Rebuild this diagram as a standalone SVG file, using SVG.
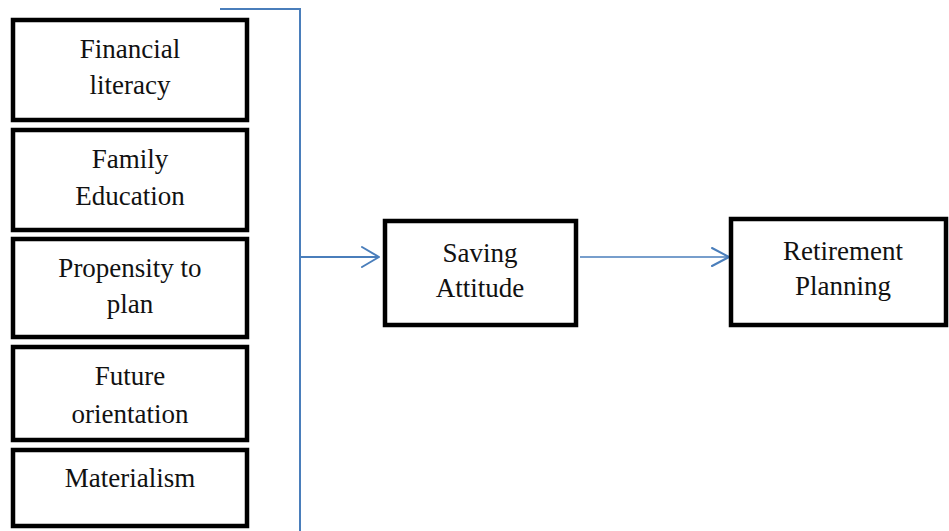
<svg xmlns="http://www.w3.org/2000/svg" width="949" height="531" viewBox="0 0 949 531">
  <style>
    .box { fill: #ffffff; stroke: #000000; stroke-width: 4.5; }
    .lbl { font-family: "Liberation Serif", "Times New Roman", serif; font-size: 27px; fill: #111111; text-anchor: middle; }
    .link { fill: none; stroke: #4a7ebb; stroke-width: 2; }
    .thin { stroke-width: 1.6; }
    .head { fill: none; stroke: #4a7ebb; stroke-width: 2; stroke-linecap: round; stroke-linejoin: round; }
  </style>
  <rect width="949" height="531" fill="#ffffff"/>

  <g id="connectors">
    <!-- bracket gathering the five factors -->
    <path class="link" d="M220,9 H300 V531"/>
    <!-- bracket to Saving Attitude -->
    <path class="link" d="M300,257 H378"/>
    <path class="head" d="M362,247 L379,257 L362,267"/>
    <!-- Saving Attitude to Retirement Planning -->
    <path class="link thin" d="M580,257 H728"/>
    <path class="head thin" d="M712,248 L729,257 L712,266"/>
  </g>

  <g id="financial-literacy">
    <rect class="box" x="13" y="20" width="234" height="100"/>
    <text class="lbl" x="130" y="58">Financial</text>
    <text class="lbl" x="130" y="94">literacy</text>
  </g>
  <g id="family-education">
    <rect class="box" x="13" y="130" width="234" height="100"/>
    <text class="lbl" x="130" y="168">Family</text>
    <text class="lbl" x="130" y="205">Education</text>
  </g>
  <g id="propensity-to-plan">
    <rect class="box" x="13" y="239" width="234" height="98"/>
    <text class="lbl" x="130" y="277">Propensity to</text>
    <text class="lbl" x="130" y="313">plan</text>
  </g>
  <g id="future-orientation">
    <rect class="box" x="13" y="347" width="234" height="93"/>
    <text class="lbl" x="130" y="385">Future</text>
    <text class="lbl" x="130" y="423">orientation</text>
  </g>
  <g id="materialism">
    <rect class="box" x="13" y="450" width="234" height="76"/>
    <text class="lbl" x="130" y="487">Materialism</text>
  </g>
  <g id="saving-attitude">
    <rect class="box" x="385" y="221" width="191" height="104"/>
    <text class="lbl" x="480" y="262">Saving</text>
    <text class="lbl" x="480" y="297">Attitude</text>
  </g>
  <g id="retirement-planning">
    <rect class="box" x="731" y="219" width="215" height="106"/>
    <text class="lbl" x="843" y="260">Retirement</text>
    <text class="lbl" x="843" y="295">Planning</text>
  </g>
</svg>
